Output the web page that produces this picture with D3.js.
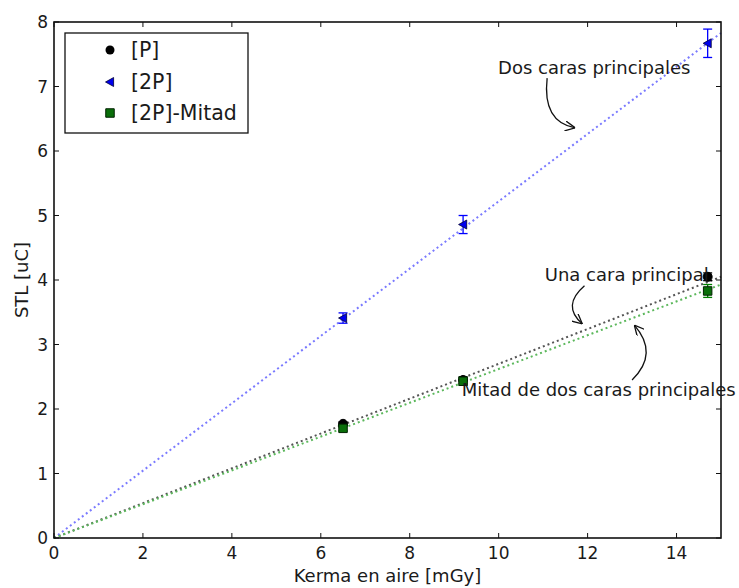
<!DOCTYPE html>
<html>
<head>
<meta charset="utf-8">
<script src="https://cdn.jsdelivr.net/npm/d3@7"></script>
<style>
  html, body { margin: 0; padding: 0; background: #fff; }
  svg text { font-family: "DejaVu Sans", sans-serif; fill: #1a1a1a; }
</style>
</head>
<body>
<svg id="chart" width="739" height="588"></svg>
<script>
// Measured doses (mGy)
const kerma = [6.5, 9.2, 14.7];
// Series: STL values (uC) and their uncertainties
const stlP = [1.77, 2.45, 4.05];
const errP = [0.03, 0.05, 0.06];
const stl2P = [3.41, 4.86, 7.67];
const err2P = [0.08, 0.14, 0.22];
const stlMitad = [1.70, 2.43, 3.83];
const errMitad = [0.04, 0.06, 0.10];
// Slopes of the proportional fits (uC / mGy)
const fitSlopes = [0.270, 0.522, 0.262];
const seriesNames = ["[P]", "[2P]", "[2P]-Mitad"];
const xTicks = [0, 2, 4, 6, 8, 10, 12, 14];
const yTicks = [0, 1, 2, 3, 4, 5, 6, 7, 8];
// Annotations: text anchor, arrow start, arrow control, arrow end (data units)
const noteTexts = ["Dos caras principales", "Una cara principal", "Mitad de dos caras principales"];
const noteTextPos = [[12.15, 7.28], [12.88, 4.08], [12.25, 2.29]];
const noteArrowFrom = [[11.09, 7.13], [11.93, 3.91], [13.0, 2.45]];
const noteArrowCtrl = [[10.98, 6.45], [11.41, 3.60], [13.61, 2.86]];
const noteArrowTo = [[11.72, 6.36], [11.88, 3.32], [13.05, 3.30]];

const svg = d3.select("#chart");
const margin = { left: 54, right: 18, top: 22, bottom: 50 };
const W = 739, H = 588;
const x = d3.scaleLinear().domain([0, 15]).range([margin.left, W - margin.right]);
const y = d3.scaleLinear().domain([0, 8]).range([H - margin.bottom, margin.top]);

// Fit lines through the origin
const fitColors = ["#555555", "#7a7aff", "#5cb85c"];
const lineGen = d3.line().x(d => x(d[0])).y(d => y(d[1]));
fitSlopes.forEach((m, i) => {
  svg.append("path")
    .attr("d", lineGen([[0, 0], [15, 15 * m]]))
    .attr("fill", "none")
    .attr("stroke", fitColors[i])
    .attr("stroke-width", 2)
    .attr("stroke-dasharray", "2,3");
});

// Error bars
function errorBars(vals, errs, color) {
  const g = svg.append("g").attr("stroke", color).attr("stroke-width", 1.3);
  kerma.forEach((k, i) => {
    const cx = x(k), y1 = y(vals[i] - errs[i]), y2 = y(vals[i] + errs[i]);
    g.append("line").attr("x1", cx).attr("x2", cx).attr("y1", y1).attr("y2", y2);
    g.append("line").attr("x1", cx - 4.5).attr("x2", cx + 4.5).attr("y1", y1).attr("y2", y1);
    g.append("line").attr("x1", cx - 4.5).attr("x2", cx + 4.5).attr("y1", y2).attr("y2", y2);
  });
}
errorBars(stlP, errP, "#000");
errorBars(stl2P, err2P, "#0000ff");
errorBars(stlMitad, errMitad, "#008000");

// Marker shapes
const circleSym = d3.symbol().type(d3.symbolCircle).size(64);
const squareSym = d3.symbol().type(d3.symbolSquare).size(72);
function leftTri(cx, cy, s) {
  return `M${cx - s},${cy} L${cx + s * 0.8},${cy - s} L${cx + s * 0.8},${cy + s} Z`;
}

kerma.forEach((k, i) => {
  svg.append("path").attr("d", circleSym()).attr("transform", `translate(${x(k)},${y(stlP[i])})`)
    .attr("fill", "#000").attr("stroke", "#000");
});
kerma.forEach((k, i) => {
  svg.append("path").attr("d", leftTri(x(k), y(stl2P[i]), 4.5))
    .attr("fill", "#0000ee").attr("stroke", "#000033").attr("stroke-width", 0.8);
});
kerma.forEach((k, i) => {
  svg.append("path").attr("d", squareSym()).attr("transform", `translate(${x(k)},${y(stlMitad[i])})`)
    .attr("fill", "#0a6e0a").attr("stroke", "#002200").attr("stroke-width", 1);
});

// Frame
svg.append("rect")
  .attr("x", x(0)).attr("y", y(8))
  .attr("width", x(15) - x(0)).attr("height", y(0) - y(8))
  .attr("fill", "none").attr("stroke", "#111").attr("stroke-width", 1.6);

// Inward ticks on all sides
const tickLen = 5;
const tg = svg.append("g").attr("stroke", "#111").attr("stroke-width", 1);
xTicks.forEach(t => {
  tg.append("line").attr("x1", x(t)).attr("x2", x(t)).attr("y1", y(0)).attr("y2", y(0) - tickLen);
  tg.append("line").attr("x1", x(t)).attr("x2", x(t)).attr("y1", y(8)).attr("y2", y(8) + tickLen);
});
yTicks.forEach(t => {
  tg.append("line").attr("x1", x(0)).attr("x2", x(0) + tickLen).attr("y1", y(t)).attr("y2", y(t));
  tg.append("line").attr("x1", x(15)).attr("x2", x(15) - tickLen).attr("y1", y(t)).attr("y2", y(t));
});

// Tick labels
svg.append("g").selectAll("text").data(xTicks).join("text")
  .attr("x", d => x(d)).attr("y", y(0) + 21)
  .attr("text-anchor", "middle").attr("font-size", 17)
  .text(d => d);
svg.append("g").selectAll("text").data(yTicks).join("text")
  .attr("x", x(0) - 6).attr("y", d => y(d) + 6)
  .attr("text-anchor", "end").attr("font-size", 17)
  .text(d => d);

// Axis titles
svg.append("text")
  .attr("x", (x(0) + x(15)) / 2).attr("y", 582)
  .attr("text-anchor", "middle").attr("font-size", 18)
  .text("Kerma en aire [mGy]");
svg.append("text")
  .attr("transform", `translate(28,${(y(0) + y(8)) / 2}) rotate(-90)`)
  .attr("text-anchor", "middle").attr("font-size", 18)
  .text("STL [uC]");

// Annotations with curved arrows
svg.append("defs").append("marker")
  .attr("id", "head").attr("viewBox", "0 0 10 10")
  .attr("refX", 10).attr("refY", 5)
  .attr("markerWidth", 10).attr("markerHeight", 10)
  .attr("markerUnits", "userSpaceOnUse")
  .attr("orient", "auto")
  .append("path").attr("d", "M0,0 L10,5 L0,10")
  .attr("fill", "none").attr("stroke", "#111").attr("stroke-width", 1.3);

noteTexts.forEach((t, i) => {
  svg.append("text")
    .attr("x", x(noteTextPos[i][0])).attr("y", y(noteTextPos[i][1]) + 6)
    .attr("text-anchor", "middle").attr("font-size", 18)
    .text(t);
  const p0 = noteArrowFrom[i], pc = noteArrowCtrl[i], p1 = noteArrowTo[i];
  svg.append("path")
    .attr("d", `M${x(p0[0])},${y(p0[1])} Q${x(pc[0])},${y(pc[1])} ${x(p1[0])},${y(p1[1])}`)
    .attr("fill", "none").attr("stroke", "#111").attr("stroke-width", 1.3)
    .attr("marker-end", "url(#head)");
});

// Legend
const lg = svg.append("g").attr("transform", "translate(65,33)");
lg.append("rect").attr("width", 183).attr("height", 100)
  .attr("fill", "#fff").attr("stroke", "#111").attr("stroke-width", 1.3);
const rowY = [17, 49, 80];
seriesNames.forEach((name, i) => {
  const cy = rowY[i], cx = 45;
  if (i === 0) {
    lg.append("path").attr("d", circleSym()).attr("transform", `translate(${cx},${cy})`).attr("fill", "#000");
  } else if (i === 1) {
    lg.append("path").attr("d", leftTri(cx, cy, 4.5)).attr("fill", "#0000ee").attr("stroke", "#000033").attr("stroke-width", 0.8);
  } else {
    lg.append("path").attr("d", squareSym()).attr("transform", `translate(${cx},${cy})`)
      .attr("fill", "#0a6e0a").attr("stroke", "#002200");
  }
  lg.append("text").attr("x", 66).attr("y", cy + 7).attr("font-size", 20.5).text(name);
});
</script>
</body>
</html>
